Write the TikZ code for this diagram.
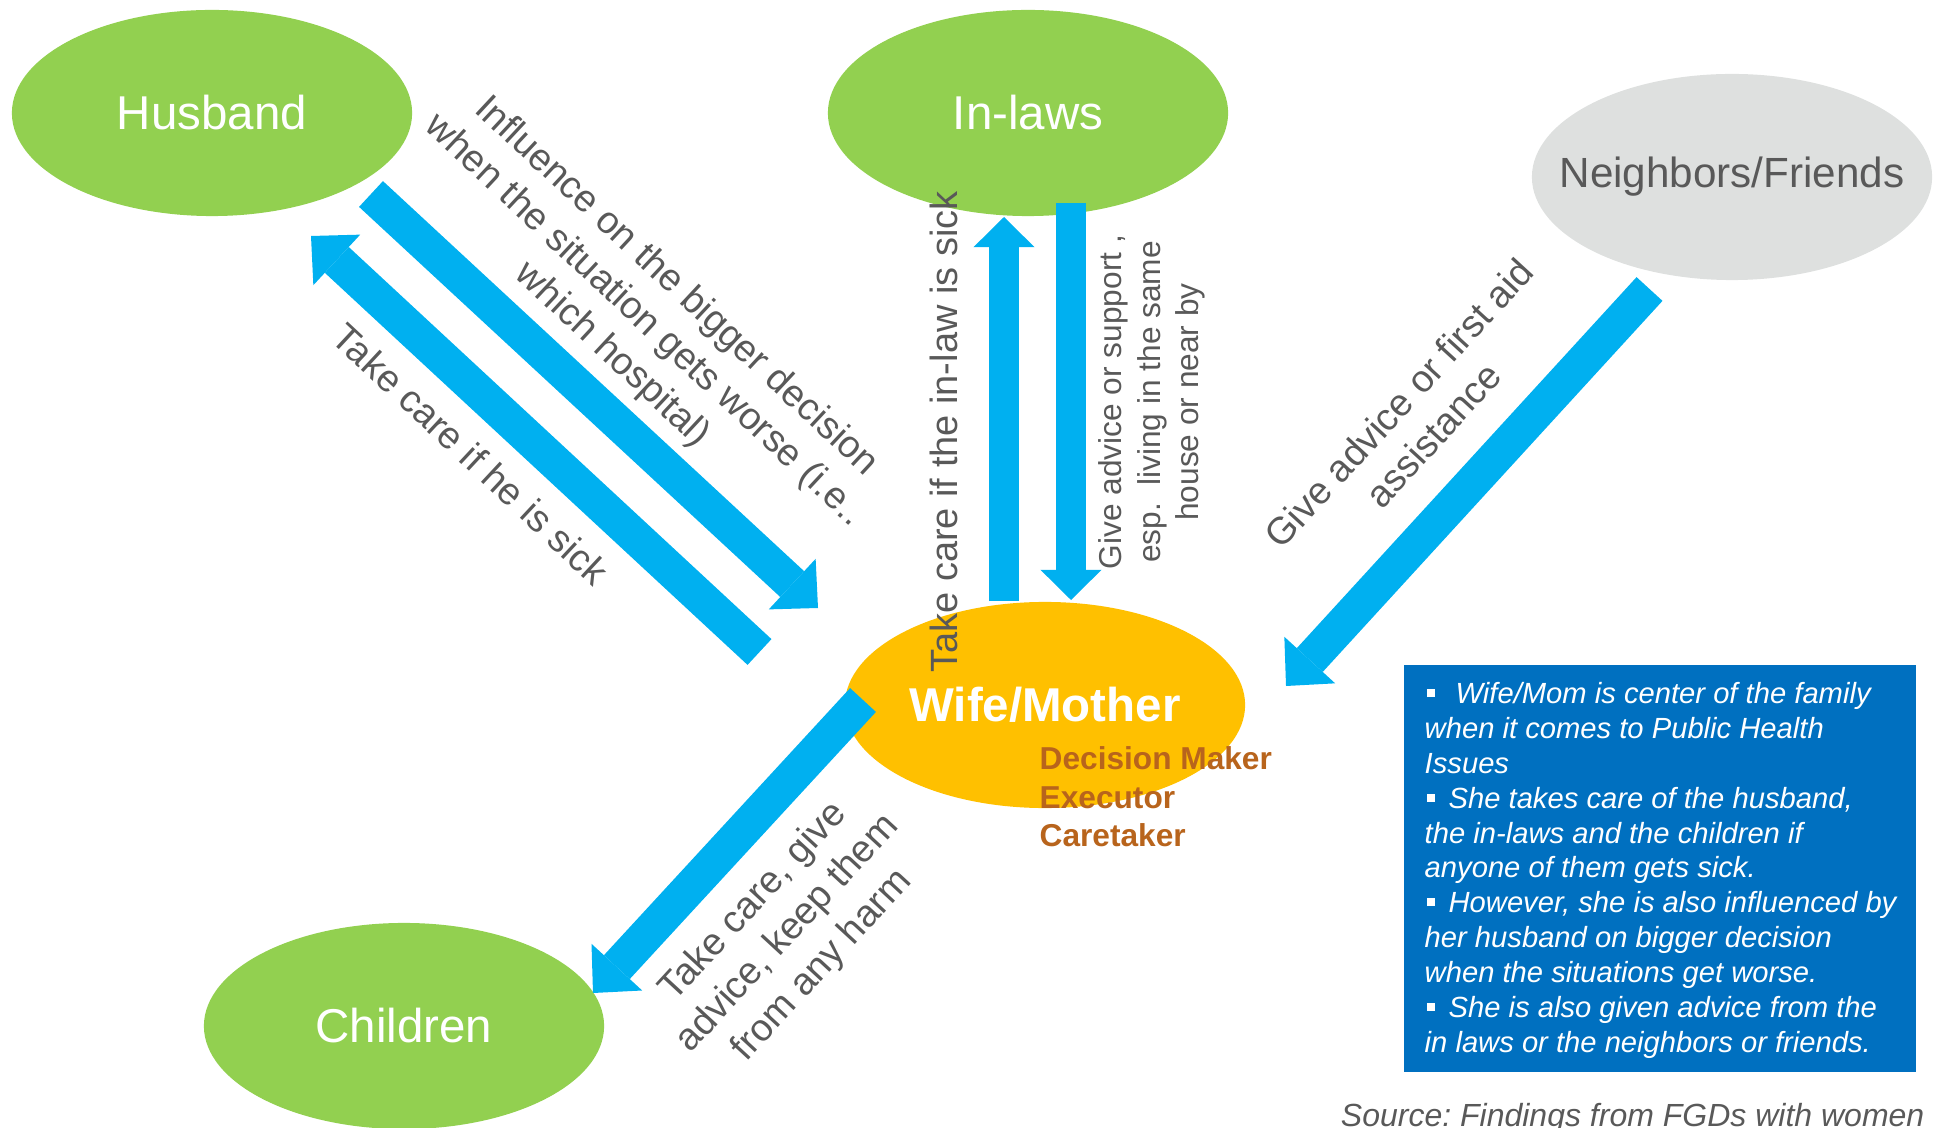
\documentclass[tikz,border=0pt]{standalone}
\usepackage{fontspec}
\setmainfont{Liberation Sans}
\usetikzlibrary{shapes.geometric,arrows.meta}

\definecolor{leafgreen}{HTML}{92D050}
\definecolor{sunorange}{HTML}{FFC000}
\definecolor{mistgray}{HTML}{DEE0DF}
\definecolor{flowblue}{HTML}{00B0F0}
\definecolor{noteblue}{HTML}{0070C0}
\definecolor{labelgray}{HTML}{595959}
\definecolor{rolebrown}{HTML}{B8641C}

\newcommand{\notemark}{\rule[1.9pt]{2.2pt}{2.2pt}}

\tikzset{
  member/.style={ellipse, fill=leafgreen, minimum width=4cm, minimum height=2.06cm,
    inner sep=0pt, text=white, font=\fontsize{13.5}{16}\selectfont},
  flow/.style={draw=flowblue, line width=10pt,
    -{Triangle[width=19.6pt,length=10pt,line width=0pt]}},
  flowv/.style={draw=flowblue, line width=8.6pt,
    -{Triangle[width=17.4pt,length=8.6pt,line width=0pt]}},
  tag/.style={text=labelgray, align=center, inner sep=0pt,
    font=\fontsize{10.8}{13.3}\selectfont},
}

\begin{document}
\frenchspacing
\begin{tikzpicture}[x=0.01cm,y=-0.01cm]
\useasboundingbox (0,0) rectangle (1937,1128);

% family members
\node[member] (husband) at (212,113) {Husband};
\node[member] (inlaws) at (1028,113) {In-laws};
\node[member, fill=mistgray, text=labelgray, font=\fontsize{12}{14}\selectfont] (friends) at (1732,177) {\makebox[0pt]{Neighbors/Friends}};
\node[member, fill=sunorange, font=\bfseries\fontsize{13.5}{16}\selectfont] (wife) at (1045,705) {Wife/Mother};
\node[member] (children) at (404,1026) {Children};
\node[anchor=west, align=left, inner sep=0pt, text=rolebrown, font=\bfseries\fontsize{9}{11}\selectfont] (roles) at (1039,797) {Decision Maker\\Executor\\Caretaker};

% arrow ends
\coordinate (husout) at (371,194);
\coordinate (wifein1) at (818,608);
\coordinate (wifeout1) at (759.5,652);
\coordinate (husin) at (311,236);
\coordinate (wifeout2) at (1004,601);
\coordinate (lawin) at (1004,217);
\coordinate (lawout) at (1071,203);
\coordinate (wifein2) at (1071,600);
\coordinate (friout) at (1649.5,289);
\coordinate (wifein3) at (1286,686);
\coordinate (wifeout3) at (863,700);
\coordinate (kidin) at (593,993);

% arrows
\draw[flow] (husout) -- (wifein1);
\draw[flow] (wifeout1) -- (husin);
\draw[flowv] (wifeout2) -- (lawin);
\draw[flowv] (lawout) -- (wifein2);
\draw[flow] (friout) -- (wifein3);
\draw[flow] (wifeout3) -- (kidin);

% arrow labels
\node[tag, rotate=-43] (lblhus) at (471,454) {Take care if he is sick};
\node[tag, rotate=-43] (lblinfl) at (644,321) {Influence on the bigger decision\\when the situation gets worse (i.e..\\which hospital)};
\node[tag, rotate=90] (lblsick) at (944,432) {Take care if the in-law is sick};
\node[tag, rotate=90, font=\fontsize{9}{11}\selectfont] (lbladv) at (1152,402) {Give advice or support ,\\esp.\ \ living in the same\\house or near by};
\node[tag, rotate=47.5] (lblaid) at (1416,419) {Give advice or first aid\\assistance};
\node[tag, rotate=47.3] (lblkid) at (788,934) {Take care, give\\advice, keep them\\from any harm};

% summary box
\fill[noteblue] (1404,665) rectangle (1916,1072);
\node[anchor=north west, align=left, inner sep=0pt, text=white, font=\itshape\fontsize{8.3}{9.9}\selectfont] (notes) at (1424,682) {%
\hspace{0.6pt}\notemark\hspace{6pt}Wife/Mom is center of the family\\
when it comes to Public Health\\
Issues\\
\hspace{0.6pt}\notemark\hspace{4pt}She takes care of the husband,\\
the in-laws and the children if\\
anyone of them gets sick.\\
\hspace{0.6pt}\notemark\hspace{4pt}However, she is also influenced by\\
her husband on bigger decision\\
when the situations get worse.\\
\hspace{0.6pt}\notemark\hspace{4pt}She is also given advice from the\\
in laws or the neighbors or friends.};
\node[anchor=base east, inner sep=0pt, text=labelgray, font=\itshape\fontsize{9.1}{11}\selectfont] (source) at (1925,1126) {Source: Findings from FGDs with women};
\end{tikzpicture}
\end{document}
